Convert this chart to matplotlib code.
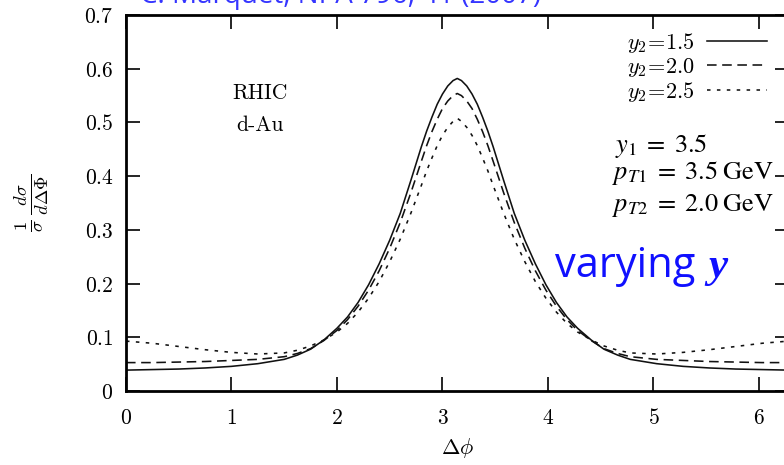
import numpy as np
import matplotlib
matplotlib.use("Agg")
import matplotlib.pyplot as plt
from matplotlib.ticker import FuncFormatter, FixedLocator

plt.rcParams['mathtext.fontset'] = 'cm'
plt.rcParams['axes.unicode_minus'] = False

# ---- data ----
dphi = [0.0, 0.25, 0.5, 0.75, 1.0, 1.25, 1.5, 1.625, 1.75, 1.875, 2.0, 2.1, 2.2,
        2.3, 2.4, 2.5, 2.6, 2.7, 2.8, 2.85, 2.9, 2.95, 3.0, 3.05, 3.1, 3.14,
        3.18, 3.23, 3.28, 3.33, 3.38, 3.43, 3.48, 3.58, 3.68, 3.78, 3.88, 3.98,
        4.08, 4.18, 4.28, 4.41, 4.53, 4.66, 4.78, 5.03, 5.28, 5.53, 5.78, 6.03, 6.28]

y15 = [0.039, 0.040, 0.041, 0.043, 0.046, 0.051, 0.059, 0.067, 0.078, 0.095, 0.117,
       0.138, 0.165, 0.198, 0.237, 0.281, 0.331, 0.392, 0.455, 0.484, 0.510, 0.534,
       0.553, 0.568, 0.578, 0.582,
       0.578, 0.568, 0.553, 0.534, 0.510, 0.484, 0.455, 0.392, 0.331, 0.281, 0.237,
       0.198, 0.165, 0.138, 0.117, 0.095, 0.078, 0.067, 0.059, 0.051, 0.046, 0.043,
       0.041, 0.040, 0.039]

y20 = [0.053, 0.053, 0.054, 0.055, 0.057, 0.059, 0.064, 0.070, 0.079, 0.094, 0.113,
       0.133, 0.158, 0.188, 0.224, 0.266, 0.314, 0.369, 0.428, 0.457, 0.483, 0.506,
       0.526, 0.540, 0.550, 0.554,
       0.550, 0.540, 0.526, 0.506, 0.483, 0.457, 0.428, 0.369, 0.314, 0.266, 0.224,
       0.188, 0.158, 0.133, 0.113, 0.094, 0.079, 0.070, 0.064, 0.059, 0.057, 0.055,
       0.054, 0.053, 0.053]

y25 = [0.093, 0.089, 0.083, 0.077, 0.072, 0.069, 0.071, 0.076, 0.084, 0.095, 0.110,
       0.126, 0.147, 0.173, 0.204, 0.241, 0.283, 0.331, 0.383, 0.410, 0.434, 0.457,
       0.476, 0.491, 0.502, 0.508,
       0.502, 0.491, 0.476, 0.457, 0.434, 0.410, 0.383, 0.331, 0.283, 0.241, 0.204,
       0.173, 0.147, 0.126, 0.110, 0.095, 0.084, 0.076, 0.071, 0.069, 0.072, 0.077,
       0.083, 0.089, 0.093]

labels = [r'$y_2\!=\!1.5$', r'$y_2\!=\!2.0$', r'$y_2\!=\!2.5$']
xticks = [0, 1, 2, 3, 4, 5, 6]
yticks = [0, 0.1, 0.2, 0.3, 0.4, 0.5, 0.6, 0.7]

fig = plt.figure(figsize=(7.84, 4.65), dpi=100)
ax = fig.add_axes([0.1607, 0.159, 0.8455, 0.8086])

ax.plot(dphi, y15, color='#111111', lw=1.15, label=labels[0])
ax.plot(dphi, y20, color='#111111', lw=1.15, dashes=(6, 3.5), label=labels[1])
ax.plot(dphi, y25, color='#111111', lw=1.15, dashes=(2.2, 4.0), label=labels[2])

ax.set_xlim(0, 2 * np.pi)
ax.set_ylim(0, 0.7)
ax.xaxis.set_major_locator(FixedLocator(xticks))
ax.yaxis.set_major_locator(FixedLocator(yticks))
ax.xaxis.set_major_formatter(FuncFormatter(lambda v, p: r'$%g$' % v))
ax.yaxis.set_major_formatter(FuncFormatter(lambda v, p: r'$%g$' % v))
ax.tick_params(direction='in', length=10, width=1.2, top=True, right=True,
               labelsize=15.5)
ax.tick_params(axis='x', pad=12)
ax.tick_params(axis='y', pad=9)
for s in ax.spines.values():
    s.set_linewidth(2.0)

ax.set_xlabel(r'$\Delta\phi$', fontsize=16, labelpad=6)
ax.set_ylabel(r'$\frac{1}{\sigma}\,\frac{d\sigma}{d\Delta\Phi}$', fontsize=19, labelpad=24)

leg = ax.legend(loc='upper right', bbox_to_anchor=(0.967, 0.958), frameon=False,
                markerfirst=False, handlelength=2.7, handletextpad=0.55,
                fontsize=16, labelspacing=0.05, borderpad=0, borderaxespad=0)

ax.text(1.27, 0.555, 'RHIC', family='cmr10', fontsize=15.5, ha='center', va='center')
ax.text(1.27, 0.495, 'd-Au', family='cmr10', fontsize=15.5, ha='center', va='center')

ax.text(4.635, 0.445, r'$y_1\;=\;3.5$', math_fontfamily='stix', fontsize=19,
        ha='left', va='baseline')
ax.text(4.607, 0.395, r'$p_{T1}\;=\;3.5\;\mathrm{GeV}$', math_fontfamily='stix',
        fontsize=19, ha='left', va='baseline')
ax.text(4.607, 0.335, r'$p_{T2}\;=\;2.0\;\mathrm{GeV}$', math_fontfamily='stix',
        fontsize=19, ha='left', va='baseline')

ax.text(4.066, 0.212, 'varying', family='Open Sans', fontsize=30, color='#1010ff',
        ha='left', va='baseline')
ax.text(5.517, 0.212, 'y', family='Liberation Serif', style='italic', weight='bold',
        fontsize=31, color='#1010ff', ha='left', va='baseline')

fig.text(140 / 784, 1 - 3 / 465, 'C. Marquet, NPA 796, 41 (2007)', family='Open Sans',
         fontsize=20, color='#3535ff', ha='left', va='baseline')

fig.savefig('out.png', dpi=100)
